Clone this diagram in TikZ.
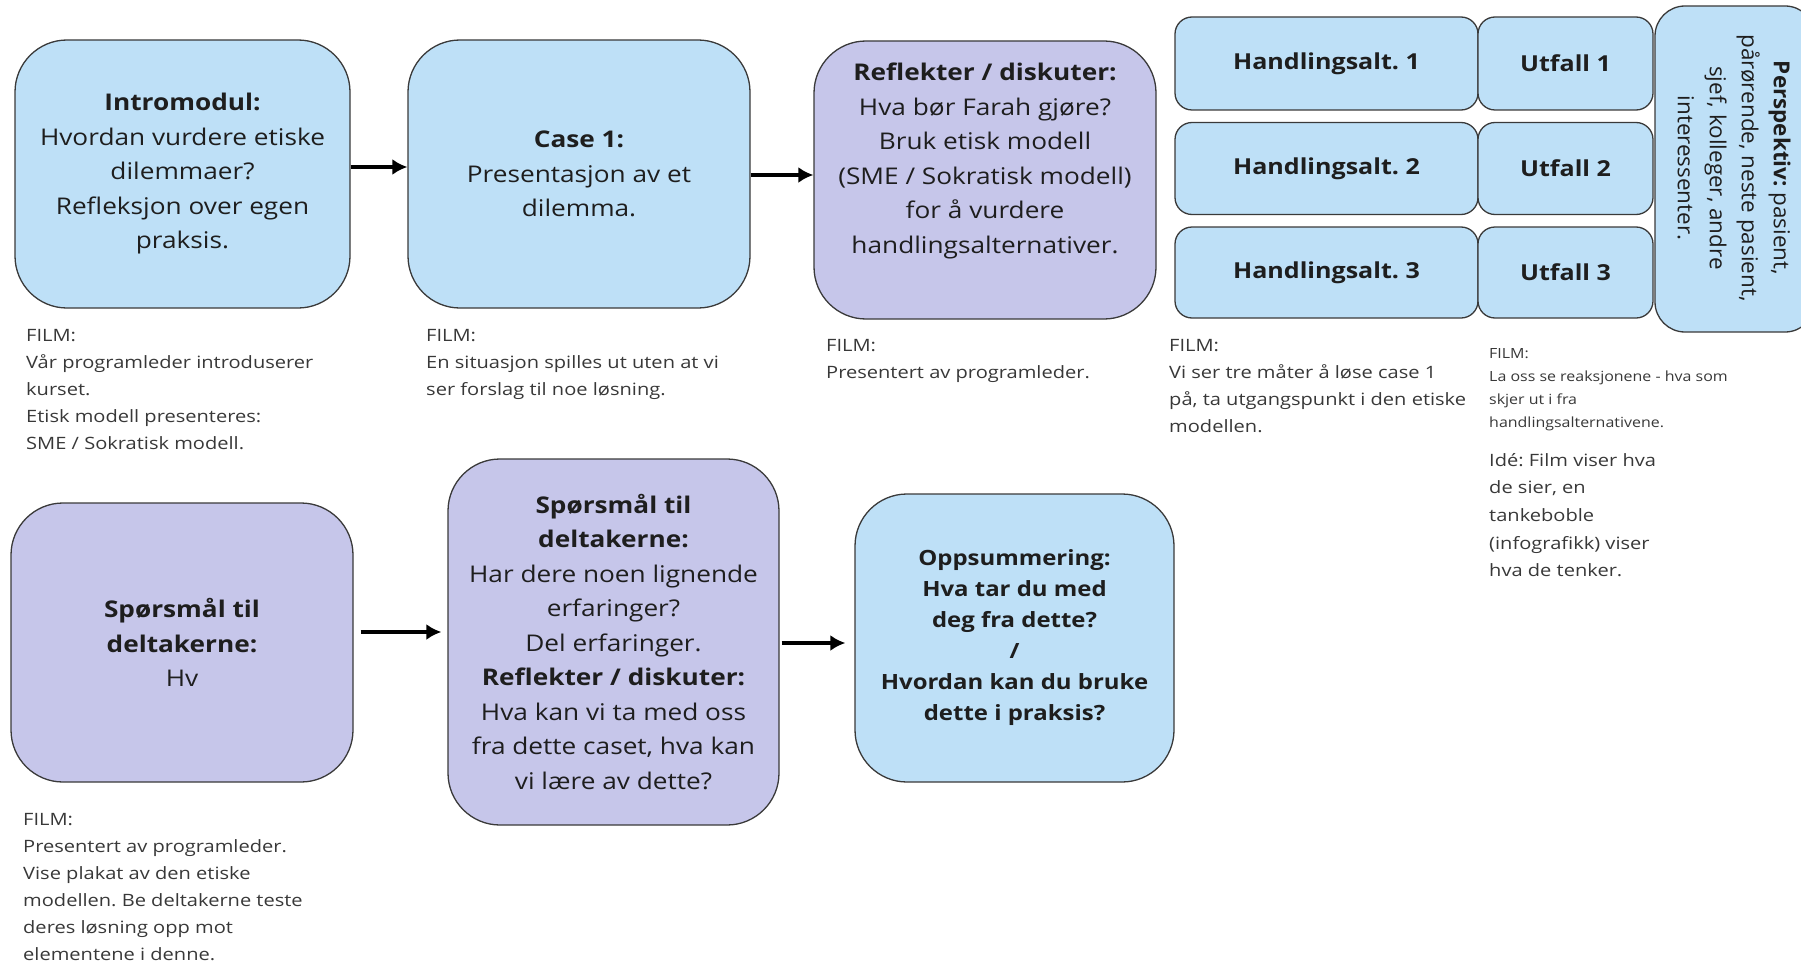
\documentclass[tikz,border=0pt]{standalone}
\usepackage{fontspec}
\setmainfont{Open Sans}
\newfontfamily\boxfont{Open Sans}[FakeStretch=1.14]
\newfontfamily\filmfont{Open Sans}[FakeStretch=1.18]
\newfontfamily\perspfont{Open Sans}[FakeStretch=1.02]
\usetikzlibrary{arrows.meta}
\frenchspacing
\definecolor{boxblue}{HTML}{BEE0F7}
\definecolor{boxpurple}{HTML}{C6C6EA}
\definecolor{edge}{HTML}{3A3A3A}
\definecolor{txt}{HTML}{1E1E1E}
\definecolor{filmtxt}{HTML}{383838}
\tikzset{
  bigbox/.style={draw=edge, line width=1.3pt, rounded corners=52pt, inner sep=0pt, text=txt, align=center, font=\boxfont\fontsize{23}{34.5}\selectfont},
  smallbox/.style={draw=edge, line width=1.3pt, rounded corners=17pt, fill=boxblue, inner sep=0pt, text=txt, align=center, font=\boxfont\fontsize{22}{30}\selectfont\bfseries},
  filmnote/.style={anchor=north west, inner sep=0pt, align=left, text=filmtxt, font=\filmfont\fontsize{17}{27}\selectfont},
  flow/.style={line width=3.5pt, -{Latex[length=15pt,width=16pt]}}
}
\begin{document}
\begin{tikzpicture}[x=1pt,y=-1pt]
\useasboundingbox (0,0) rectangle (1801,963);
% top row
\node[bigbox, fill=boxblue, minimum width=335pt, minimum height=268pt] (intro) at (182.5,174)
  {\textbf{Intromodul:}\\Hvordan vurdere etiske\\dilemmaer?\\Refleksjon over egen\\praksis.};
\node[bigbox, fill=boxblue, minimum width=342pt, minimum height=268pt] (case) at (579,174)
  {\textbf{Case 1:}\\Presentasjon av et\\dilemma.};
\node[bigbox, fill=boxpurple, minimum width=342pt, minimum height=278pt] (refl) at (985,180) {};
\node[align=center, text=txt, font=\boxfont\fontsize{23}{34.5}\selectfont] (refltxt) at (985,161)
  {\textbf{Reflekter / diskuter:}\\Hva bør Farah gjøre?\\Bruk etisk modell\\(SME / Sokratisk modell)\\for å vurdere\\handlingsalternativer.};
% handling alternatives
\node[smallbox, minimum width=303pt, minimum height=93pt] (h1) at (1326.5,63.5) {Handlingsalt. 1};
\node[smallbox, minimum width=303pt, minimum height=92pt] (h2) at (1326.5,168.5) {Handlingsalt. 2};
\node[smallbox, minimum width=303pt, minimum height=91pt] (h3) at (1326.5,272.5) {Handlingsalt. 3};
\node[smallbox, minimum width=175pt, minimum height=93pt] (u1) at (1565.5,63.5) {Utfall 1};
\node[smallbox, minimum width=175pt, minimum height=92pt] (u2) at (1565.5,168.5) {Utfall 2};
\node[smallbox, minimum width=175pt, minimum height=91pt] (u3) at (1565.5,272.5) {Utfall 3};
\node[draw=edge, line width=1.3pt, rounded corners=30pt, fill=boxblue, minimum width=160pt, minimum height=326pt, inner sep=0pt] (persp) at (1735,169) {};
\node[rotate=-90, align=center, text=txt, font=\perspfont\fontsize{22}{32}\selectfont] (persptxt) at (1734,168)
  {\textbf{Perspektiv:} pasient,\\pårørende, neste pasient,\\sjef, kolleger, andre\\interessenter.};
% arrows top
\draw[flow] (intro.east |- 0,167) -- (case.west |- 0,167);
\draw[flow] (case.east |- 0,175) -- (refl.west |- 0,175);
% film notes top
\node[filmnote] (f1) at (26,329) {FILM:\\Vår programleder introduserer\\kurset.\\Etisk modell presenteres:\\SME / Sokratisk modell.};
\node[filmnote] (f2) at (426,329) {FILM:\\En situasjon spilles ut uten at vi\\ser forslag til noe løsning.};
\node[filmnote] (f3) at (826,339) {FILM:\\Presentert av programleder.};
\node[filmnote] (f4) at (1169,339) {FILM:\\Vi ser tre måter å løse case 1\\på, ta utgangspunkt i den etiske\\modellen.};
\node[filmnote, font=\boxfont\fontsize{14}{23}\selectfont] (f5) at (1489,348) {FILM:\\La oss se reaksjonene - hva som\\skjer ut i fra\\handlingsalternativene.};
\node[filmnote, font=\filmfont\fontsize{17}{27.6}\selectfont] (f6) at (1489,453) {Idé: Film viser hva\\de sier, en\\tankeboble\\(infografikk) viser\\hva de tenker.};
% bottom row
\node[bigbox, fill=boxpurple, minimum width=342pt, minimum height=279pt] (spm) at (182,642.5)
  {\textbf{Spørsmål til}\\\textbf{deltakerne:}\\Hv};
\node[bigbox, fill=boxpurple, minimum width=331pt, minimum height=366pt] (del) at (613.5,642)
  {\textbf{Spørsmål til}\\\textbf{deltakerne:}\\Har dere noen lignende\\erfaringer?\\Del erfaringer.\\\textbf{Reflekter / diskuter:}\\Hva kan vi ta med oss\\fra dette caset, hva kan\\vi lære av dette?};
\node[bigbox, fill=boxblue, minimum width=319pt, minimum height=288pt, font=\boxfont\fontsize{21}{31}\selectfont\bfseries] (opp) at (1014.5,638)
  {Oppsummering:\\Hva tar du med\\deg fra dette?\\/\\Hvordan kan du bruke\\dette i praksis?};
\draw[flow] ([xshift=7pt]spm.east |- 0,632) -- ([xshift=-6pt]del.west |- 0,632);
\draw[flow] ([xshift=2pt]del.east |- 0,643) -- ([xshift=-9pt]opp.west |- 0,643);
\node[filmnote] (f7) at (23,813) {FILM:\\Presentert av programleder.\\Vise plakat av den etiske\\modellen. Be deltakerne teste\\deres løsning opp mot\\elementene i denne.};
\end{tikzpicture}
\end{document}
